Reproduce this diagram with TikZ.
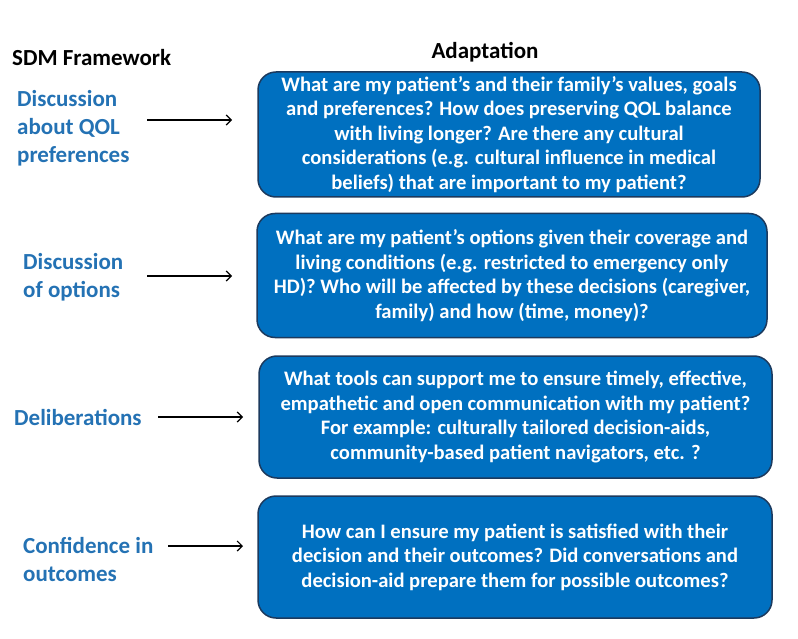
\documentclass[tikz,border=0pt]{standalone}
\usepackage{fontspec}
\setmainfont{Carlito}
\usetikzlibrary{arrows.meta}
\definecolor{boxblue}{HTML}{0070C0}
\definecolor{boxline}{HTML}{1C3A5E}
\definecolor{labblue}{HTML}{2472B4}
\tikzset{
	qbox/.style={draw=boxline, line width=1.5pt, fill=boxblue, rounded corners=18pt, text=white, align=center, inner sep=0pt, font=\fontsize{20.6}{24.6}\selectfont\bfseries},
	sdmlabel/.style={text=labblue, align=left, anchor=west, inner sep=0pt, font=\fontsize{23}{28}\selectfont\bfseries},
	heading/.style={inner sep=0pt, font=\fontsize{23}{26}\selectfont\bfseries},
	arr/.style={-{Straight Barb[length=5pt,width=10pt]}, line width=1.2pt}
}
\begin{document}
\begin{tikzpicture}[x=1pt, y=-1pt]
	\useasboundingbox (0,0) rectangle (798,639);
	\node[heading, anchor=west] (sdm) at (12,58) {SDM Framework};
	\node[heading] (adapt) at (485,52) {Adaptation};
	
	\node[sdmlabel] (lab1) at (17,128) {Discussion\\about QOL\\preferences};
	\node[sdmlabel] (lab2) at (23,277) {Discussion\\of options};
	\node[sdmlabel] (lab3) at (14,417) {Deliberations};
	\node[sdmlabel] (lab4) at (23,559) {Confidence in\\outcomes};
	
	\node[qbox, minimum width=502, minimum height=125] (box1) at (509,134.5) {What are my patient’s and their family’s values, goals\\and preferences? How does preserving QOL balance\\with living longer? Are there any cultural\\considerations (e.g. cultural influence in medical\\beliefs) that are important to my patient?};
	\node[qbox, minimum width=510, minimum height=124] (box2) at (512,275.5) {What are my patient’s options given their coverage and\\living conditions (e.g. restricted to emergency only\\HD)? Who will be affected by these decisions (caregiver,\\family) and how (time, money)?};
	\node[qbox, minimum width=513, minimum height=122] (box3) at (515.5,417) {What tools can support me to ensure timely, effective,\\empathetic and open communication with my patient?\\For example: culturally tailored decision-aids,\\community-based patient navigators, etc. ?};
	\node[qbox, minimum width=514, minimum height=122] (box4) at (515,557) {How can I ensure my patient is satisfied with their\\decision and their outcomes? Did conversations and\\decision-aid prepare them for possible outcomes?};
	
	\foreach \n/\xa/\xb/\y in {1/147/232/120, 2/147/232/276, 3/158/243/417, 4/168/243/546}{
		\coordinate (s\n) at (\xa,\y);
		\coordinate (e\n) at (\xb,\y);
		\draw[arr] (s\n) -- (e\n);
	}
\end{tikzpicture}
\end{document}
